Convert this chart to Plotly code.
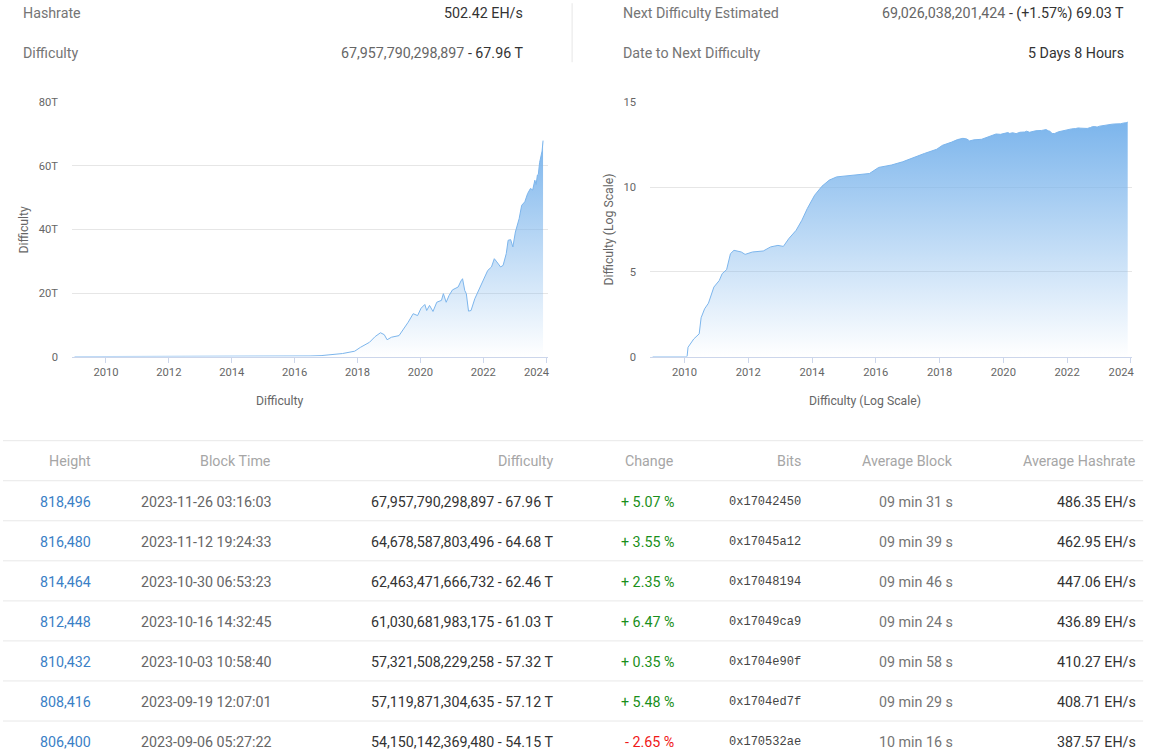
import math
import plotly.graph_objects as go

# ---------------- data ----------------
years = [2009.00, 2010.08, 2010.11, 2010.29, 2010.46, 2010.52, 2010.63, 2010.75, 2010.92,
         2011.09, 2011.18, 2011.32, 2011.44, 2011.55, 2011.78, 2011.90, 2012.13, 2012.47,
         2012.70, 2012.93, 2013.10, 2013.27, 2013.50, 2013.68, 2013.85, 2014.08, 2014.31,
         2014.54, 2014.77, 2015.23, 2015.80, 2016.09, 2016.49, 2016.84, 2017.18, 2017.52,
         2017.91, 2018.09, 2018.38, 2018.56, 2018.73, 2018.85, 2018.94, 2019.08, 2019.32,
         2019.44, 2019.61, 2019.77, 2019.91, 2020.02, 2020.14, 2020.20, 2020.29, 2020.40,
         2020.52, 2020.67, 2020.73, 2020.82, 2020.91, 2021.02, 2021.20, 2021.29, 2021.34,
         2021.41, 2021.46, 2021.53, 2021.61, 2021.73, 2021.88, 2022.02, 2022.14, 2022.26,
         2022.35, 2022.43, 2022.55, 2022.63, 2022.73, 2022.79, 2022.87, 2022.94, 2023.02,
         2023.14, 2023.22, 2023.32, 2023.41, 2023.50, 2023.57, 2023.64, 2023.68, 2023.72,
         2023.75, 2023.79, 2023.83, 2023.87, 2023.90]
difficulty = [1, 1, 3.55, 11.0, 21.9, 195, 661, 1413, 12600,
              30900, 77600, 135000, 1.175e6, 1.86e6, 1.48e6, 1.07e6, 1.48e6, 1.70e6,
              2.95e6, 3.63e6, 3.16e6, 9.12e6, 2.82e7, 1.10e8, 5.37e8, 3.31e9, 1.12e10,
              2.57e10, 3.98e10, 4.79e10, 6.31e10, 1.445e11, 2.0e11, 3.09e11, 5.62e11, 9.55e11,
              1.7e12, 2.9e12, 4.5e12, 6.3e12, 7.5e12, 6.9e12, 5.3e12, 6.1e12, 6.6e12,
              8.2e12, 10.8e12, 13.5e12, 12.9e12, 15.2e12, 16.4e12, 14.5e12, 16.1e12, 14.2e12,
              17.1e12, 17.7e12, 19.8e12, 17.1e12, 19.2e12, 21.0e12, 21.9e12, 23.8e12, 24.5e12,
              20.8e12, 19.8e12, 14.3e12, 14.5e12, 18.2e12, 21.3e12, 24.5e12, 27.1e12, 28.2e12,
              30.8e12, 29.8e12, 28.2e12, 28.7e12, 32.4e12, 36.6e12, 36.8e12, 34.5e12, 39.2e12,
              43.4e12, 47.6e12, 48.7e12, 51.3e12, 52.9e12, 52.4e12, 55.5e12, 54.150e12, 57.120e12,
              57.322e12, 61.031e12, 62.463e12, 64.679e12, 67.958e12]

year_ticks = [2010, 2012, 2014, 2016, 2018, 2020, 2022, 2024]
lin_ticks = [0, 20, 40, 60, 80]
lin_ticktext = ["0", "20T", "40T", "60T", "80T"]
log_ticks = [0, 5, 10, 15]

header_left = [("Hashrate", "", "502.42 EH/s"),
               ("Difficulty", "67,957,790,298,897", " - 67.96 T")]
header_right = [("Next Difficulty Estimated", "69,026,038,201,424", " - (+1.57%) 69.03 T"),
                ("Date to Next Difficulty", "", "5 Days 8 Hours")]

col_names = ["Height", "Block Time", "Difficulty", "Change", "Bits", "Average Block", "Average Hashrate"]
heights = ["818,496", "816,480", "814,464", "812,448", "810,432", "808,416", "806,400"]
block_times = ["2023-11-26 03:16:03", "2023-11-12 19:24:33", "2023-10-30 06:53:23",
               "2023-10-16 14:32:45", "2023-10-03 10:58:40", "2023-09-19 12:07:01",
               "2023-09-06 05:27:22"]
difficulties = ["67,957,790,298,897 - 67.96 T", "64,678,587,803,496 - 64.68 T",
                "62,463,471,666,732 - 62.46 T", "61,030,681,983,175 - 61.03 T",
                "57,321,508,229,258 - 57.32 T", "57,119,871,304,635 - 57.12 T",
                "54,150,142,369,480 - 54.15 T"]
changes = [5.07, 3.55, 2.35, 6.47, 0.35, 5.48, -2.65]
bits = ["0x17042450", "0x17045a12", "0x17048194", "0x17049ca9", "0x1704e90f",
        "0x1704ed7f", "0x170532ae"]
avg_blocks = ["09 min 31 s", "09 min 39 s", "09 min 46 s", "09 min 24 s", "09 min 58 s",
              "09 min 29 s", "10 min 16 s"]
avg_hashrates = ["486.35 EH/s", "462.95 EH/s", "447.06 EH/s", "436.89 EH/s", "410.27 EH/s",
                 "408.71 EH/s", "387.57 EH/s"]

# ---------------- layout helpers ----------------
# The screenshot maps page pixels to image pixels by ~0.982 scale and ~5.8px top offset;
# positions below are given in image pixels of the target and converted to page pixels.
S = 0.982
OY = 5.8
W, H = 1176, 770


def fx(x):
    return (x / S) / W


def fy(y):
    return 1 - ((y - OY) / S) / H


def fs(v):
    return round(v / S, 2)


BLUE = "#7cb5ec"
grad = dict(type="vertical",
            colorscale=[[0, "rgba(124,181,236,0)"], [1, "rgba(124,181,236,1)"]])

fig = go.Figure()
fig.add_trace(go.Scatter(x=years, y=[d / 1e12 for d in difficulty], mode="lines",
                         line=dict(color=BLUE, width=1), fill="tozeroy", fillgradient=grad,
                         hoverinfo="skip", xaxis="x", yaxis="y"))
fig.add_trace(go.Scatter(x=years, y=[math.log10(d) for d in difficulty], mode="lines",
                         line=dict(color=BLUE, width=1), fill="tozeroy", fillgradient=grad,
                         hoverinfo="skip", xaxis="x2", yaxis="y2"))

pad = "\u00a0" * 7
xt_text = [str(t) for t in year_ticks[:-1]] + [str(year_ticks[-1]) + pad]

xcommon = dict(tickvals=year_ticks, ticktext=xt_text, showgrid=False, showline=True,
               linecolor="#ccd6eb", linewidth=1, ticks="outside", ticklen=5,
               tickcolor="#ccd6eb", tickfont=dict(size=fs(11), color="#666666"),
               zeroline=False, fixedrange=True)
ycommon = dict(showgrid=True, gridcolor="#e6e6e6", gridwidth=1, zeroline=False,
               showline=False, ticks="", tickfont=dict(size=fs(11), color="#666666"),
               ticklabelstandoff=13, fixedrange=True)

fig.update_layout(
    width=W, height=H, margin=dict(l=0, r=0, t=0, b=0),
    paper_bgcolor="white", plot_bgcolor="white", showlegend=False,
    font=dict(family="Roboto, 'Noto Sans', sans-serif", color="#333333"),
    xaxis=dict(domain=[fx(72), fx(548)], range=[2008.92, 2024.06], anchor="y", **xcommon),
    yaxis=dict(domain=[fy(356), fy(102)], range=[0, 80], tickvals=lin_ticks,
               ticktext=lin_ticktext, anchor="x", **ycommon),
    xaxis2=dict(domain=[fx(650), fx(1132)], range=[2008.92, 2024.04], anchor="y2", **xcommon),
    yaxis2=dict(domain=[fy(356), fy(102)], range=[0, 15], tickvals=log_ticks,
                ticktext=[str(t) for t in log_ticks], anchor="x2", **ycommon),
)

ann = []


def text(x, y, s, anchor="left", size=14, color="#333333", family=None, angle=0):
    f = dict(size=fs(size), color=color)
    if family:
        f["family"] = family
    if anchor == "right":
        x += 2.5
    elif anchor == "left":
        x -= 2
    ann.append(dict(x=fx(x), y=fy(y), xref="paper", yref="paper", text=s, showarrow=False,
                    xanchor=anchor, yanchor="middle", font=f, textangle=angle))


# axis titles
text(24, 229, "Difficulty", anchor="center", size=12, color="#666666", angle=-90)
text(280, 400, "Difficulty", anchor="center", size=12, color="#666666")
text(609, 229, "Difficulty (Log Scale)", anchor="center", size=12, color="#666666", angle=-90)
text(865, 400, "Difficulty (Log Scale)", anchor="center", size=12, color="#666666")

# header stats
GRAY = "#757575"


def stat_value(grayv, darkv):
    s = ""
    if grayv:
        s += f'<span style="color:#666666">{grayv}</span>'
    return s + darkv


for (label, grayv, darkv), yy in zip(header_left, [13, 53]):
    text(23, yy, label, color=GRAY)
    text(522, yy, stat_value(grayv, darkv), anchor="right", color="#333333")
for (label, grayv, darkv), yy in zip(header_right, [13, 53]):
    text(623, yy, label, color=GRAY)
    text(1123, yy, stat_value(grayv, darkv), anchor="right", color="#333333")

# table
col_right = [90, 270, 552, 673, 800, 952, 1135]
for name, xr in zip(col_names, col_right):
    text(xr, 460, name, anchor="right", color="#a6a6a6")

for i in range(len(heights)):
    yy = 501 + 40 * i
    text(col_right[0], yy, heights[i], anchor="right", color="#3a80c6")
    text(col_right[1], yy, block_times[i], anchor="right", color="#666666")
    text(col_right[2], yy, difficulties[i], anchor="right", color="#333333")
    c = changes[i]
    ctext = (f"+ {c:.2f} %" if c >= 0 else f"- {abs(c):.2f} %")
    text(col_right[3], yy, ctext, anchor="right", color="#1a8f1a" if c >= 0 else "#f01818")
    text(col_right[4], yy, bits[i], anchor="right", size=11.8, color="#444444",
         family="'Liberation Mono', monospace")
    text(col_right[5], yy, avg_blocks[i], anchor="right", color="#757575")
    text(col_right[6], yy, avg_hashrates[i], anchor="right", color="#333333")

fig.update_layout(annotations=ann)

shapes = [dict(type="line", xref="paper", yref="paper", x0=fx(572), x1=fx(572),
               y0=fy(3), y1=fy(62), line=dict(color="#e6e6e6", width=1))]
for yy in [440, 480, 520, 560, 600, 640, 680, 720]:
    shapes.append(dict(type="line", xref="paper", yref="paper", x0=fx(3), x1=fx(1143),
                       y0=fy(yy), y1=fy(yy), line=dict(color="#e8e8e8", width=1)))
fig.update_layout(shapes=shapes)

fig.write_html(
    "out.html",
    config={"displayModeBar": False, "staticPlot": True},
    post_script=(
        "document.body.style.margin='0';"
        "document.body.style.overflow='hidden';"
        "document.documentElement.style.overflow='hidden';"
    ),
)
